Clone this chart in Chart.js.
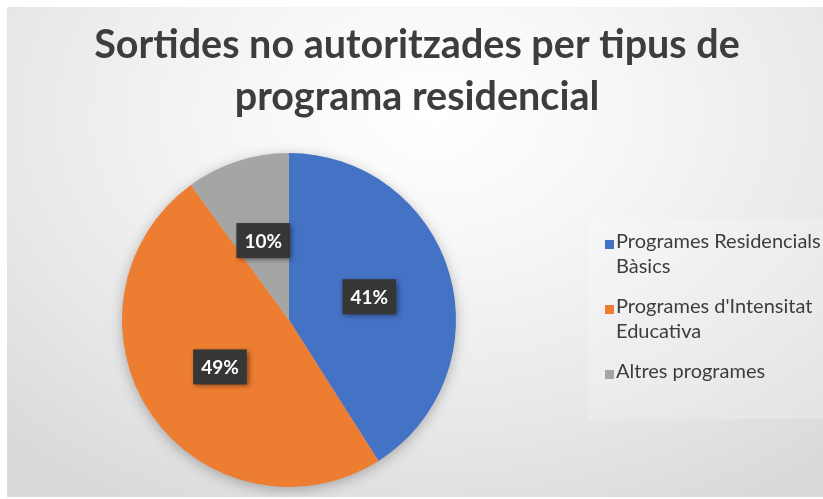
<!DOCTYPE html>
<html>
<head>
<meta charset="utf-8">
<script src="https://cdn.jsdelivr.net/npm/chart.js@4/dist/chart.umd.min.js"></script>
<style>
  html, body { margin: 0; background: #fff; }
  #panel {
    position: absolute; left: 7px; top: 7px; width: 816px; height: 490px;
    background: radial-gradient(ellipse 75% 90% at 52% 22%, #ffffff 0%, #f7f7f7 30%, #e8e8e8 70%, #dadada 100%);
  }
  canvas { display: block; }
</style>
</head>
<body>
<div id="panel"><canvas id="chart" width="816" height="490"></canvas></div>
<script>
const titleLines = ['Sortides no autoritzades per tipus de', 'programa residencial'];
const categories = [
  ['Programes Residencials', 'Bàsics'],
  ["Programes d'Intensitat", 'Educativa'],
  ['Altres programes']
];
const values = [41, 49, 10];
const colors = ['#4472C4', '#ED7D31', '#A5A5A5'];

const FONT = 'Lato, "Open Sans", sans-serif';
const TEXT = '#3d3d3d';

// soft shadow under the whole pie
const pieShadow = {
  id: 'pieShadow',
  beforeDatasetsDraw(chart) {
    const arc = chart.getDatasetMeta(0).data[0];
    if (!arc) return;
    const ctx = chart.ctx;
    ctx.save();
    ctx.shadowColor = 'rgba(0,0,0,0.3)';
    ctx.shadowBlur = 14;
    ctx.shadowOffsetY = 3;
    ctx.fillStyle = '#c8c8c8';
    ctx.beginPath();
    ctx.arc(arc.x, arc.y, arc.outerRadius - 1, 0, Math.PI * 2);
    ctx.fill();
    ctx.restore();
  }
};

// dark boxes with the percentages
const sliceLabels = {
  id: 'sliceLabels',
  afterDatasetsDraw(chart) {
    const ctx = chart.ctx;
    const data = chart.data.datasets[0].data;
    const total = data.reduce((a, b) => a + b, 0);
    ctx.save();
    ctx.font = 'bold 19px ' + FONT;
    ctx.textAlign = 'center';
    ctx.textBaseline = 'middle';
    chart.getDatasetMeta(0).data.forEach((arc, i) => {
      const p = arc.tooltipPosition();
      const txt = Math.round(data[i] / total * 100) + '%';
      const w = ctx.measureText(txt).width + 16;
      const h = 35;
      ctx.save();
      ctx.shadowColor = 'rgba(0,0,0,0.45)';
      ctx.shadowBlur = 5;
      ctx.shadowOffsetX = 2;
      ctx.shadowOffsetY = 2;
      ctx.fillStyle = '#363636';
      ctx.fillRect(p.x - w / 2, p.y - h / 2, w, h);
      ctx.restore();
      ctx.fillStyle = '#ffffff';
      ctx.fillText(txt, p.x, p.y + 1);
    });
    ctx.restore();
  }
};

// title and legend text
const panelText = {
  id: 'panelText',
  afterDraw(chart) {
    const ctx = chart.ctx;
    ctx.save();
    ctx.fillStyle = TEXT;
    ctx.textAlign = 'center';
    ctx.textBaseline = 'alphabetic';
    ctx.font = 'bold 39.5px ' + FONT;
    ctx.fillText(titleLines[0], 410, 51);
    ctx.fillText(titleLines[1], 410, 103);

    // legend
    ctx.fillStyle = 'rgba(255,255,255,0.2)';
    ctx.fillRect(581, 212, 235, 200);
    ctx.textAlign = 'left';
    ctx.font = '20px ' + FONT;
    let y = 241;
    chart.data.labels.forEach((lines, i) => {
      ctx.fillStyle = chart.data.datasets[0].backgroundColor[i];
      ctx.fillRect(598, y - 8, 9, 9);
      ctx.fillStyle = TEXT;
      lines.forEach((ln, j) => {
        ctx.fillText(ln, 609, y + j * 25);
      });
      y += lines.length * 25 + 15;
    });
    ctx.restore();
  }
};

new Chart(document.getElementById('chart'), {
  type: 'pie',
  data: {
    labels: categories,
    datasets: [{
      data: values,
      backgroundColor: colors,
      borderWidth: 0
    }]
  },
  options: {
    responsive: false,
    animation: false,
    layout: { padding: { left: 115, right: 367, top: 146, bottom: 10 } },
    plugins: {
      legend: { display: false },
      title: { display: false },
      tooltip: { enabled: false }
    }
  },
  plugins: [pieShadow, sliceLabels, panelText]
});
</script>
</body>
</html>
